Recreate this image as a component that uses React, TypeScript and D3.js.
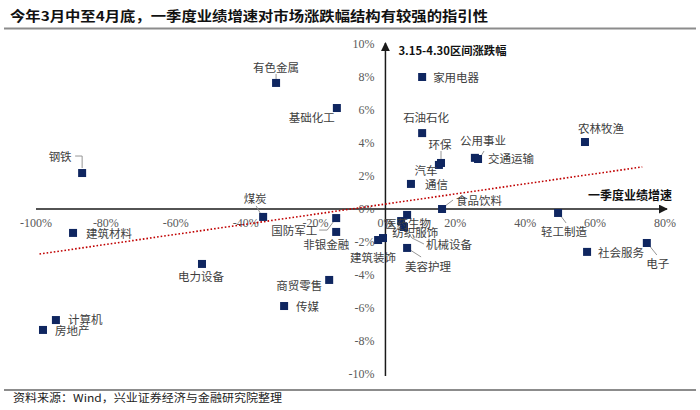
import { useEffect, useRef } from 'react';
import * as d3 from 'd3';

// 申万一级行业：一季度业绩增速(%) vs 3.15-4.30区间涨跌幅(%)
const industries = [
  '家用电器', '有色金属', '基础化工', '石油石化', '环保', '汽车', '公用事业', '交通运输',
  '通信', '农林牧渔', '食品饮料', '轻工制造', '电子', '社会服务', '钢铁', '煤炭',
  '建筑材料', '国防军工', '非银金融', '医药生物', '纺织服饰', '机械设备', '美容护理',
  '建筑装饰', '银行', '电力设备', '商贸零售', '传媒', '计算机', '房地产',
];
const growth = [
  10.5, -31.3, -13.9, 10.5, 15.9, 15.3, 25.6, 26.5,
  7.3, 57.1, 16.2, 49.4, 74.8, 57.7, -86.8, -35.0,
  -89.4, -14.1, -14.1, 6.2, 4.5, 5.3, 6.2,
  -0.7, -2.1, -52.5, -16.1, -29.0, -94.3, -98.0,
];
const returns = [
  8.0, 7.64, 6.12, 4.6, 2.79, 2.67, 3.1, 3.03,
  1.52, 4.06, 0.0, -0.24, -2.06, -2.6, 2.18, -0.48,
  -1.45, -0.55, -1.39, -0.36, -0.73, -1.09, -2.36,
  -1.76, -1.88, -3.33, -4.3, -5.88, -6.73, -7.33,
];
const xTicks = [-100, -80, -60, -40, -20, 0, 20, 40, 60, 80];
const yTicks = [-10, -8, -6, -4, -2, 0, 2, 4, 6, 8, 10];
const trendX = [-99, 73.5];
const trendY = [-2.73, 2.55];

const title = '今年3月中至4月底，一季度业绩增速对市场涨跌幅结构有较强的指引性';
const source = '资料来源：Wind，兴业证券经济与金融研究院整理';
const yTitle = '3.15-4.30区间涨跌幅';
const xTitle = '一季度业绩增速';

// label placement: [dx, dy, anchor], leader: polyline offsets from the point
type Place = { dx: number; dy: number; a: string; lead?: number[][] };
const place: Record<string, Place> = {
  家用电器: { dx: 11, dy: 0, a: 'start' },
  有色金属: { dx: 0, dy: -16, a: 'middle', lead: [[0, -4], [0, -9]] },
  基础化工: { dx: -2, dy: 9, a: 'end' },
  石油石化: { dx: 4, dy: -16, a: 'middle' },
  环保: { dx: -1, dy: -19, a: 'middle', lead: [[0, -4], [0, -12]] },
  汽车: { dx: -13, dy: 5, a: 'middle' },
  公用事业: { dx: 8, dy: -18, a: 'middle' },
  交通运输: { dx: 10, dy: -1, a: 'start', lead: [[3, -3], [6, -8]] },
  通信: { dx: 14, dy: 0, a: 'start' },
  农林牧渔: { dx: 16, dy: -14, a: 'middle' },
  食品饮料: { dx: 14, dy: -9, a: 'start', lead: [[3, -3], [11, -9]] },
  轻工制造: { dx: 6, dy: 18, a: 'middle', lead: [[2, 2], [8, 10]] },
  电子: { dx: 11, dy: 20, a: 'middle', lead: [[2, 2], [10, 12]] },
  社会服务: { dx: 11, dy: 0, a: 'start' },
  钢铁: { dx: -22, dy: -17, a: 'middle', lead: [[-7, -17], [0, -17], [0, -5]] },
  煤炭: { dx: -8, dy: -19, a: 'middle', lead: [[-3, -4], [-7, -11]] },
  建筑材料: { dx: 13, dy: 0, a: 'start' },
  国防军工: { dx: -19, dy: 12, a: 'end', lead: [[-3, 4], [-9, 12], [-17, 12]] },
  非银金融: { dx: -10, dy: 12, a: 'middle' },
  医药生物: { dx: 1, dy: 8, a: 'middle' },
  纺织服饰: { dx: 14, dy: 11, a: 'middle' },
  机械设备: { dx: 22, dy: 17, a: 'start', lead: [[3, 4], [8, 11], [20, 17]] },
  美容护理: { dx: 21, dy: 18, a: 'middle', lead: [[3, 2], [14, 9]] },
  建筑装饰: { dx: -10, dy: 19, a: 'middle' },
  电力设备: { dx: -1, dy: 12, a: 'middle' },
  商贸零售: { dx: -7, dy: 5, a: 'end' },
  传媒: { dx: 12, dy: 0, a: 'start' },
  计算机: { dx: 12, dy: -1, a: 'start' },
  房地产: { dx: 12, dy: 0, a: 'start' },
};

const CJK = '"Noto Sans CJK SC", "Noto Sans", sans-serif';
const SERIF = '"Liberation Serif", "DejaVu Serif", serif';

export default function App() {
  const ref = useRef<SVGSVGElement>(null);

  useEffect(() => {
    if (!ref.current) return;
    const svg = d3.select(ref.current);
    svg.selectAll('*').remove();

    const x = d3.scaleLinear().domain([-100, 80]).range([36, 665]);
    const y = d3.scaleLinear().domain([-10, 10]).range([374, 44]);

    // header
    svg.append('text')
      .attr('x', 10).attr('y', 15)
      .attr('dominant-baseline', 'central')
      .attr('font-family', CJK).attr('font-weight', 700).attr('font-size', 13.5)
      .attr('textLength', 478).attr('lengthAdjust', 'spacingAndGlyphs')
      .attr('fill', '#111')
      .text(title);
    svg.append('line').attr('x1', 4).attr('x2', 696).attr('y1', 28.5).attr('y2', 28.5)
      .attr('stroke', '#8c8c8c').attr('stroke-width', 2);

    // footer
    svg.append('line').attr('x1', 4).attr('x2', 696).attr('y1', 390).attr('y2', 390)
      .attr('stroke', '#8c8c8c').attr('stroke-width', 2);
    svg.append('text')
      .attr('x', 13).attr('y', 397)
      .attr('dominant-baseline', 'central')
      .attr('font-family', CJK).attr('font-size', 11)
      .attr('textLength', 269).attr('lengthAdjust', 'spacingAndGlyphs')
      .attr('fill', '#222')
      .text(source);

    const g = svg.append('g');

    // axes with arrows
    const defs = svg.append('defs');
    defs.append('marker')
      .attr('id', 'arr').attr('viewBox', '0 0 10 10')
      .attr('refX', 9).attr('refY', 5)
      .attr('markerWidth', 6).attr('markerHeight', 6)
      .attr('orient', 'auto')
      .append('path').attr('d', 'M0,0L10,5L0,10Z').attr('fill', '#1a1a1a');

    g.append('line')
      .attr('x1', x(-100)).attr('x2', x(80) + 2)
      .attr('y1', y(0)).attr('y2', y(0))
      .attr('stroke', '#1a1a1a').attr('stroke-width', 1.5)
      .attr('marker-end', 'url(#arr)');
    g.append('line')
      .attr('x1', x(0)).attr('x2', x(0))
      .attr('y1', y(-10) + 2).attr('y2', y(10) - 1)
      .attr('stroke', '#1a1a1a').attr('stroke-width', 1.5)
      .attr('marker-end', 'url(#arr)');

    // tick labels
    g.selectAll('text.xt')
      .data(xTicks)
      .join('text')
      .attr('class', 'xt')
      .attr('x', d => x(d)).attr('y', y(0) + 14)
      .attr('text-anchor', 'middle').attr('dominant-baseline', 'central')
      .attr('font-family', SERIF).attr('font-size', 12).attr('fill', '#595959')
      .text(d => `${d}%`);
    g.selectAll('text.yt')
      .data(yTicks)
      .join('text')
      .attr('class', 'yt')
      .attr('x', x(0) - 11).attr('y', d => y(d))
      .attr('text-anchor', 'end').attr('dominant-baseline', 'central')
      .attr('font-family', SERIF).attr('font-size', 12).attr('fill', '#595959')
      .text(d => `${d}%`);

    // axis titles
    g.append('text')
      .attr('x', x(0) + 13).attr('y', y(10) + 6)
      .attr('dominant-baseline', 'central')
      .attr('font-family', CJK).attr('font-weight', 700).attr('font-size', 11)
      .attr('textLength', 108).attr('lengthAdjust', 'spacingAndGlyphs')
      .attr('fill', '#111')
      .text(yTitle);
    g.append('text')
      .attr('x', 672).attr('y', y(0) - 15)
      .attr('text-anchor', 'end').attr('dominant-baseline', 'central')
      .attr('font-family', CJK).attr('font-weight', 700).attr('font-size', 12)
      .attr('fill', '#111')
      .text(xTitle);

    // trend line
    const line = d3.line<number>()
      .x((_, i) => x(trendX[i]))
      .y(d => y(d));
    g.append('path')
      .attr('d', line(trendY))
      .attr('fill', 'none')
      .attr('stroke', '#c00000').attr('stroke-width', 1.6)
      .attr('stroke-dasharray', '1.6,2');

    const pts = industries.map((name, i) => ({ name, gx: growth[i], ry: returns[i] }));

    // leader lines
    const leadLine = d3.line<number[]>().x(d => d[0]).y(d => d[1]);
    g.selectAll('path.lead')
      .data(pts.filter(p => place[p.name]?.lead))
      .join('path')
      .attr('class', 'lead')
      .attr('d', p => leadLine(place[p.name].lead!.map(o => [x(p.gx) + o[0], y(p.ry) + o[1]])))
      .attr('fill', 'none').attr('stroke', '#8a8a8a').attr('stroke-width', 0.9);

    // markers
    const s = 8;
    g.selectAll('rect.pt')
      .data(pts)
      .join('rect')
      .attr('class', 'pt')
      .attr('x', p => x(p.gx) - s / 2).attr('y', p => y(p.ry) - s / 2)
      .attr('width', s).attr('height', s)
      .attr('fill', '#0f2660');

    // labels
    g.selectAll('text.lbl')
      .data(pts.filter(p => place[p.name]))
      .join('text')
      .attr('class', 'lbl')
      .attr('x', p => x(p.gx) + place[p.name].dx)
      .attr('y', p => y(p.ry) + place[p.name].dy)
      .attr('text-anchor', p => place[p.name].a)
      .attr('dominant-baseline', 'central')
      .attr('font-family', CJK).attr('font-size', 11.5).attr('fill', '#404040')
      .text(p => p.name);
  }, []);

  return (
    <svg
      ref={ref}
      width={700}
      height={410}
      style={{ position: 'absolute', left: 0, top: 0, background: '#fff' }}
    />
  );
}
